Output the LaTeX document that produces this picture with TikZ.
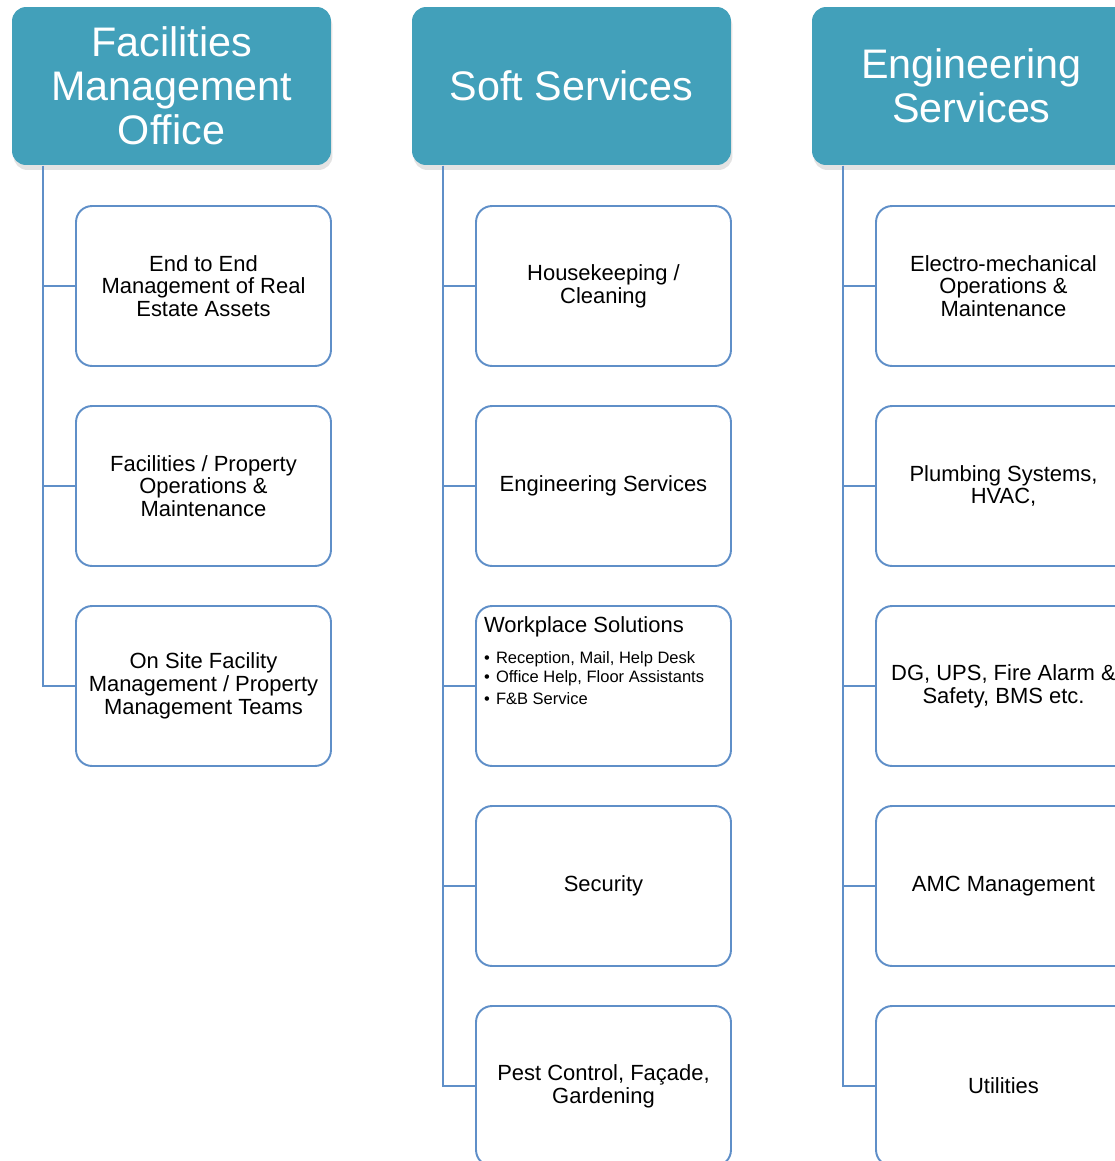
\documentclass[tikz,border=0pt]{standalone}
\usepackage{fontspec}
\setmainfont{Liberation Sans}
\usetikzlibrary{shadows}
\definecolor{headteal}{HTML}{42A0BA}
\definecolor{linkblue}{HTML}{5F8FC8}

\begin{document}
\begin{tikzpicture}[x=0.02cm, y=-0.02cm, line width=1.1pt,
  head/.style={rounded corners=0.28cm, fill=headteal, text=white, minimum width=6.38cm, minimum height=3.16cm, align=center, font=\fontsize{23.5}{25}\selectfont, drop shadow={shadow xshift=0.03cm, shadow yshift=-0.1cm, opacity=0.22}},
  box/.style={rounded corners=0.32cm, draw=linkblue, fill=white, minimum width=5.1cm, minimum height=3.2cm, align=center, font=\fontsize{12.5}{13}\selectfont},
  link/.style={draw=linkblue}]
  \useasboundingbox (0,0) rectangle (1115,1161);
  \clip (0,0) rectangle (1115,1161);

  \node[head] (F0) at (171.5, 86) {Facilities\\Management\\Office};
  \node[head] (S0) at (571.5, 86) {Soft Services};
  \node[head] (E0) at (971.5, 86) {Engineering\\Services};

  \node[box] (F1) at (203.5, 286) {End to End\\Management of Real\\Estate Assets};
  \node[box] (F2) at (203.5, 486) {Facilities / Property\\Operations \&\\Maintenance};
  \node[box] (F3) at (203.5, 686) {On Site Facility\\Management / Property\\Management Teams};

  \node[box] (S1) at (603.5, 286) {Housekeeping /\\Cleaning};
  \node[box] (S2) at (603.5, 486) {Engineering Services};
  \node[box, inner xsep=0.16cm, inner ysep=0.21cm] (S3) at (603.5, 686) {\parbox[c][2.78cm][t]{4.78cm}{\raggedright
    Workplace Solutions\par\vspace{6.5pt}
    {\fontsize{9.4}{11}\selectfont
    \makebox[0.24cm][l]{\textbullet}Reception, Mail, Help Desk\\
    \makebox[0.24cm][l]{\textbullet}Office Help, Floor Assistants\\[1.5pt]
    \makebox[0.24cm][l]{\textbullet}F\&B Service\par}}};
  \node[box] (S4) at (603.5, 886) {Security};
  \node[box] (S5) at (603.5, 1086) {Pest Control, Façade,\\Gardening};

  \node[box] (E1) at (1003.5, 286) {Electro-mechanical\\Operations \&\\Maintenance};
  \node[box] (E2) at (1003.5, 486) {Plumbing Systems,\\HVAC,};
  \node[box] (E3) at (1003.5, 686) {DG, UPS, Fire Alarm \&\\Safety, BMS etc.};
  \node[box] (E4) at (1003.5, 886) {AMC Management};
  \node[box] (E5) at (1003.5, 1086) {Utilities};

  \coordinate (Ft) at ([xshift=0.64cm]F0.south west);
  \coordinate (St) at ([xshift=0.64cm]S0.south west);
  \coordinate (Et) at ([xshift=0.64cm]E0.south west);

  \draw[link] (Ft) |- (F1.west);
  \draw[link] (Ft) |- (F2.west);
  \draw[link] (Ft) |- (F3.west);

  \draw[link] (St) |- (S1.west);
  \draw[link] (St) |- (S2.west);
  \draw[link] (St) |- (S3.west);
  \draw[link] (St) |- (S4.west);
  \draw[link] (St) |- (S5.west);

  \draw[link] (Et) |- (E1.west);
  \draw[link] (Et) |- (E2.west);
  \draw[link] (Et) |- (E3.west);
  \draw[link] (Et) |- (E4.west);
  \draw[link] (Et) |- (E5.west);
\end{tikzpicture}
\end{document}
